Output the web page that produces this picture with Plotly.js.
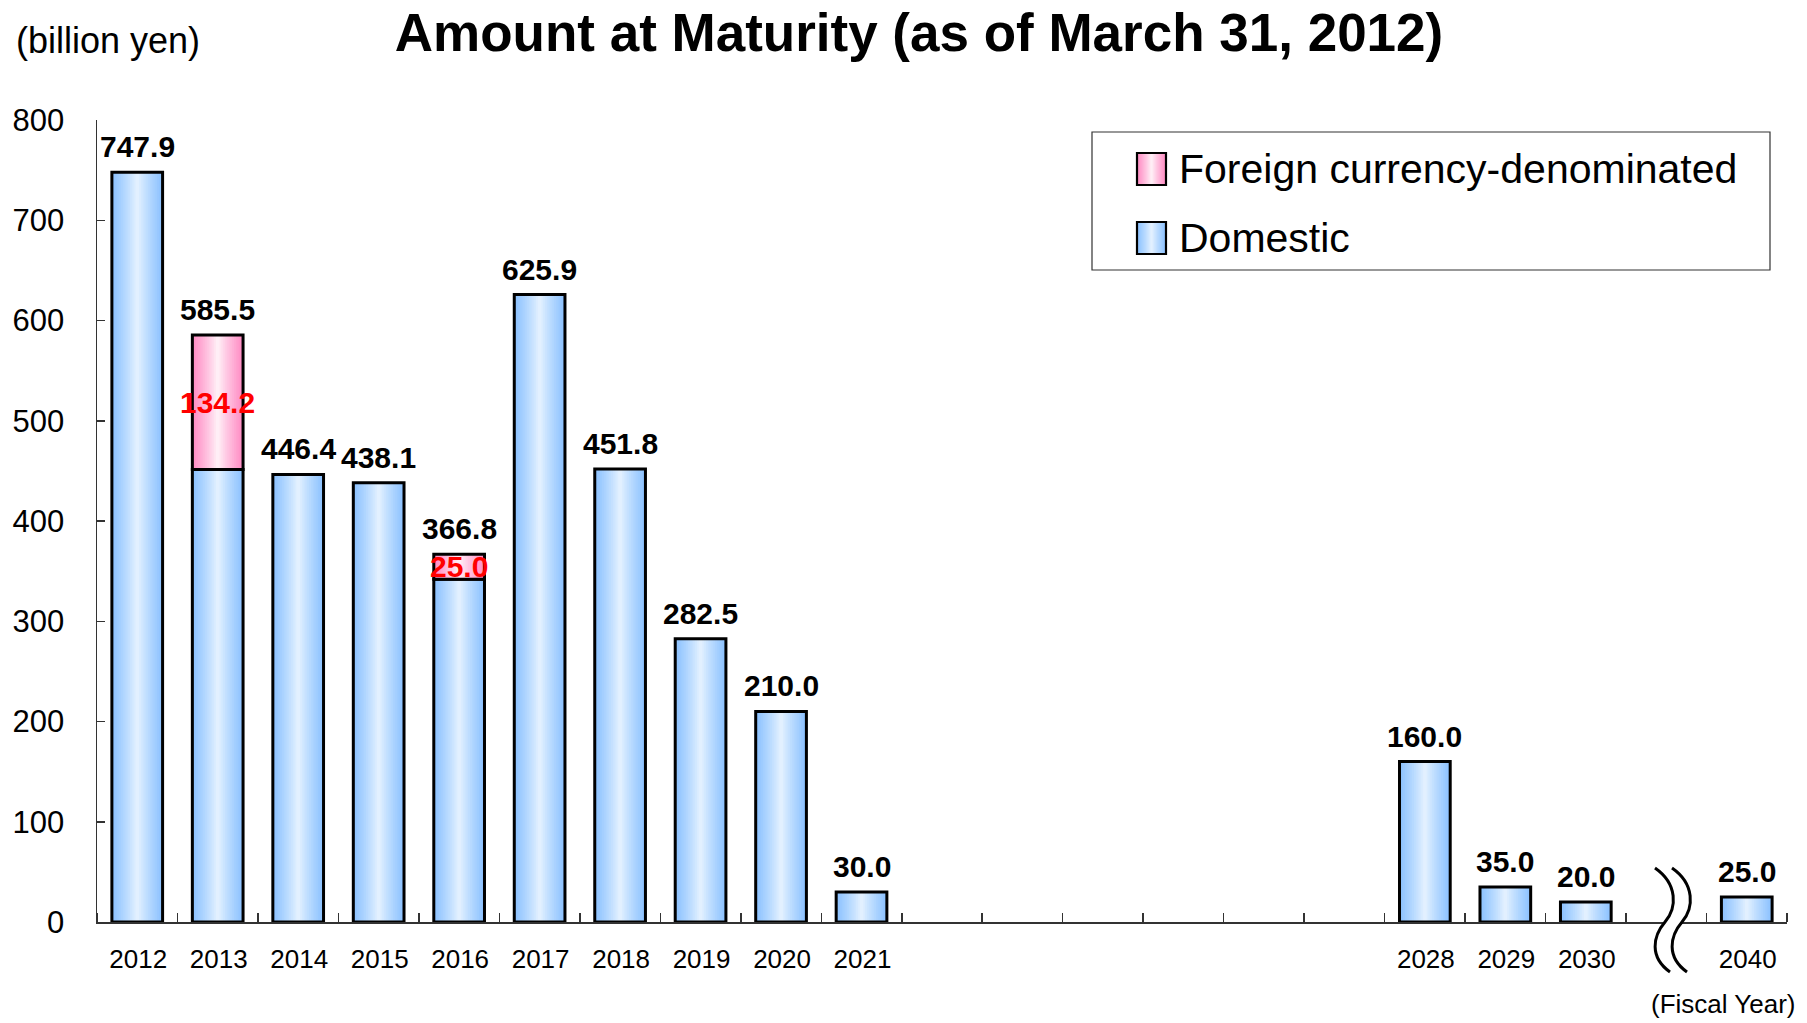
<!DOCTYPE html>
<html>
<head>
<meta charset="utf-8">
<script src="https://cdn.plot.ly/plotly-3.0.1.min.js"></script>
<style>
html,body{margin:0;padding:0;background:#ffffff;}
#chart{width:1807px;height:1023px;}
</style>
</head>
<body>
<div id="chart"></div>
<script>
// ---------------- DATA ----------------
const slots = ['2012','2013','2014','2015','2016','2017','2018','2019','2020','2021',
               '2022','2023','2024','2025','2026','2027','2028','2029','2030','break','2040'];
const years = ['2012','2013','2014','2015','2016','2017','2018','2019','2020','2021','2028','2029','2030','2040'];
const domestic = [747.9, 451.3, 446.4, 438.1, 341.8, 625.9, 451.8, 282.5, 210.0, 30.0, 160.0, 35.0, 20.0, 25.0];
const foreignYears = ['2013','2016'];
const foreign = [134.2, 25.0];
const seriesNames = ['Foreign currency-denominated', 'Domestic'];
const chartTitle = 'Amount at Maturity (as of March 31, 2012)';
const yUnit = '(billion yen)';
const xUnit = '(Fiscal Year)';
const yTicks = [0,100,200,300,400,500,600,700,800];

// ---------------- GEOMETRY HELPERS ----------------
const W = 1807, H = 1023;
const M = {l:97, r:20, t:120, b:101};
const PW = W - M.l - M.r;
const PH = H - M.t - M.b;
const px = x => (x - M.l) / PW;          // pixel -> paper x
const py = y => (M.t + PH - y) / PH;     // pixel -> paper y
const FONT = 'Liberation Sans, Arial, Helvetica, sans-serif';

const xDom = years.map(y => slots.indexOf(y));
const xFor = foreignYears.map(y => slots.indexOf(y));
const baseFor = foreignYears.map(y => domestic[years.indexOf(y)]);
const totals = years.map((y, i) => {
  const j = foreignYears.indexOf(y);
  return domestic[i] + (j >= 0 ? foreign[j] : 0);
});

const blueEdge = [140, 194, 255], blueCenter = [236, 246, 255];
const pinkEdge = [255, 140, 196], pinkCenter = [255, 250, 252];
function mix(c1, c2, t) {
  const c = c1.map((v, i) => Math.round(v + (c2[i] - v) * t));
  return 'rgb(' + c.join(',') + ')';
}

const NL = 14;        // gradient layers
const GP = 0.85;      // gradient curve
const BW = 0.63;      // bar width (category units)
const traces = [];

function gradientBars(x, y, base, edge, center, name) {
  for (let k = 0; k < NL; k++) {
    const t = (NL - k) / NL;
    traces.push({
      type: 'bar', x: x, y: y, base: base, width: BW * t,
      marker: {color: mix(center, edge, Math.pow(t, GP)), line: {width: 0}},
      name: name, showlegend: false, hoverinfo: 'skip'
    });
  }
  traces.push({
    type: 'bar', x: x, y: y, base: base, width: BW,
    marker: {color: 'rgba(0,0,0,0)', line: {color: '#000000', width: 3}},
    name: name, showlegend: false, hoverinfo: 'skip'
  });
}
gradientBars(xDom, domestic, xDom.map(() => 0), blueEdge, blueCenter, seriesNames[1]);
gradientBars(xFor, foreign, baseFor, pinkEdge, pinkCenter, seriesNames[0]);

// ---------------- ANNOTATIONS ----------------
const annotations = [];
totals.forEach((v, i) => {
  annotations.push({
    x: xDom[i], y: v, xref: 'x', yref: 'y', text: v.toFixed(1), showarrow: false,
    yanchor: 'bottom', xanchor: 'center', yshift: 7,
    font: {family: FONT, size: 30, color: '#000000', weight: 'bold'}
  });
});
foreign.forEach((v, i) => {
  annotations.push({
    x: xFor[i], y: baseFor[i] + v / 2, xref: 'x', yref: 'y', text: v.toFixed(1), showarrow: false,
    yanchor: 'middle', xanchor: 'center',
    font: {family: FONT, size: 30, color: '#ff0000', weight: 'bold'}
  });
});
annotations.push({
  x: px(14), y: py(40), xref: 'paper', yref: 'paper', text: yUnit, showarrow: false,
  xanchor: 'left', yanchor: 'middle', font: {family: FONT, size: 36, color: '#000000'}
});
annotations.push({
  x: px(1723), y: py(1004), xref: 'paper', yref: 'paper', text: xUnit, showarrow: false,
  xanchor: 'center', yanchor: 'middle', font: {family: FONT, size: 26, color: '#000000'}
});
// legend texts
const legRows = [169, 238];
seriesNames.forEach((n, i) => {
  annotations.push({
    x: px(1177), y: py(legRows[i]), xref: 'paper', yref: 'paper', text: n, showarrow: false,
    xanchor: 'left', yanchor: 'middle', font: {family: FONT, size: 41, color: '#000000'}
  });
});

// ---------------- SHAPES ----------------
const shapes = [];
// legend frame
shapes.push({type: 'rect', xref: 'paper', yref: 'paper', x0: px(1092), x1: px(1770), y0: py(270), y1: py(132),
  line: {color: '#333333', width: 1.2}, fillcolor: 'rgba(255,255,255,0)'});
// legend symbols with gradient
const symEdges = [[pinkEdge, pinkCenter], [blueEdge, blueCenter]];
legRows.forEach((cy, i) => {
  const x0 = 1137, x1 = 1166, cx = (x0 + x1) / 2, hw = (x1 - x0) / 2;
  for (let k = 0; k < NL; k++) {
    const t = (NL - k) / NL;
    shapes.push({type: 'rect', xref: 'paper', yref: 'paper',
      x0: px(cx - hw * t), x1: px(cx + hw * t), y0: py(cy + 16), y1: py(cy - 16),
      line: {width: 0}, fillcolor: mix(symEdges[i][1], symEdges[i][0], Math.pow(t, GP))});
  }
  shapes.push({type: 'rect', xref: 'paper', yref: 'paper',
    x0: px(x0), x1: px(x1), y0: py(cy + 16), y1: py(cy - 16),
    line: {color: '#000000', width: 2.2}, fillcolor: 'rgba(0,0,0,0)'});
});
// axis break squiggle
function P(x, y) { return px(x).toFixed(5) + ',' + py(y).toFixed(5); }
function curvePts(dx) {
  return {
    p0: [1655 + dx, 868], c1: [1678 + dx, 884], c2: [1677 + dx, 908], p1: [1665 + dx, 922],
    c3: [1653 + dx, 936], c4: [1649 + dx, 957], p2: [1670 + dx, 972]
  };
}
const A = curvePts(0), B = curvePts(17);
const pp = a => P(a[0], a[1]);
const fillPath = 'M' + pp(A.p0) + ' C' + pp(A.c1) + ' ' + pp(A.c2) + ' ' + pp(A.p1) +
  ' C' + pp(A.c3) + ' ' + pp(A.c4) + ' ' + pp(A.p2) + ' L' + pp(B.p2) +
  ' C' + pp(B.c4) + ' ' + pp(B.c3) + ' ' + pp(B.p1) +
  ' C' + pp(B.c2) + ' ' + pp(B.c1) + ' ' + pp(B.p0) + ' Z';
shapes.push({type: 'path', xref: 'paper', yref: 'paper', path: fillPath, fillcolor: '#ffffff', line: {width: 0}, layer: 'above'});
[A, B].forEach(c => {
  shapes.push({type: 'path', xref: 'paper', yref: 'paper', layer: 'above',
    path: 'M' + pp(c.p0) + ' C' + pp(c.c1) + ' ' + pp(c.c2) + ' ' + pp(c.p1) + ' C' + pp(c.c3) + ' ' + pp(c.c4) + ' ' + pp(c.p2),
    line: {color: '#000000', width: 3}, fillcolor: 'rgba(0,0,0,0)'});
});

// ---------------- LAYOUT ----------------
const boundaries = [-0.5].concat(slots.map((s, i) => i + 0.5));
const layout = {
  width: W, height: H,
  margin: M,
  paper_bgcolor: '#ffffff', plot_bgcolor: '#ffffff',
  barmode: 'overlay',
  showlegend: false,
  title: {
    text: chartTitle, xref: 'container', yref: 'container',
    x: 919 / W, xanchor: 'center', y: 1 - 32 / H, yanchor: 'middle',
    font: {family: FONT, size: 53, color: '#000000', weight: 'bold'}
  },
  xaxis: {
    type: 'linear', range: [-0.5, slots.length - 0.5],
    tickmode: 'array', tickvals: xDom, ticktext: years,
    ticks: '', showgrid: false, zeroline: false,
    showline: true, linecolor: '#333333', linewidth: 1.5,
    tickfont: {family: FONT, size: 26, color: '#000000'},
    ticklabelstandoff: 13, ticklabelshift: 1,
    minor: {tickmode: 'array', tickvals: boundaries, ticks: 'inside', ticklen: 9, tickwidth: 1.5, tickcolor: '#333333', showgrid: false},
    fixedrange: true
  },
  yaxis: {
    range: [0, 800], tickmode: 'array', tickvals: yTicks,
    ticks: 'inside', ticklen: 8, tickwidth: 1.5, tickcolor: '#333333',
    showgrid: false, zeroline: false,
    showline: true, linecolor: '#333333', linewidth: 1.5,
    tickfont: {family: FONT, size: 31, color: '#000000'},
    ticklabelstandoff: 25,
    fixedrange: true
  },
  annotations: annotations,
  shapes: shapes
};

Plotly.newPlot('chart', traces, layout, {staticPlot: true, displayModeBar: false});
</script>
</body>
</html>
